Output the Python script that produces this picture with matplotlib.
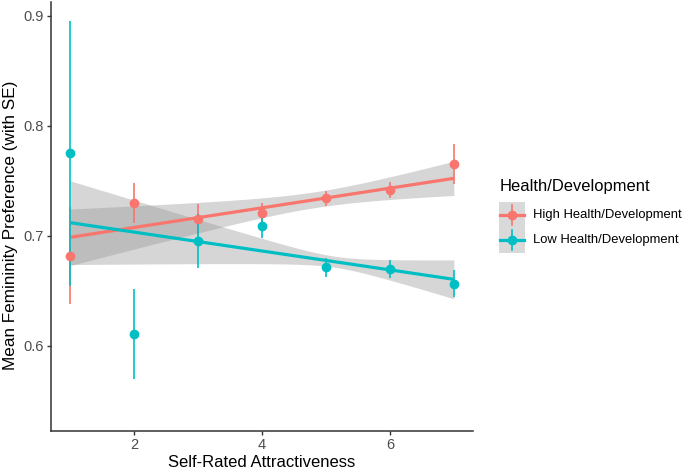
import numpy as np
import matplotlib
matplotlib.use("Agg")
import matplotlib.pyplot as plt

plt.rcParams['font.family'] = ['Liberation Sans', 'DejaVu Sans']

# ---- data ----
x_vals = [1, 2, 3, 4, 5, 6, 7]
high_mean = [0.682, 0.730, 0.7155, 0.7212, 0.7345, 0.7418, 0.7652]
high_se   = [0.044, 0.0185, 0.0135, 0.0092, 0.0068, 0.0076, 0.0182]
low_mean  = [0.7752, 0.6106, 0.6957, 0.7094, 0.6715, 0.6703, 0.6566]
low_se    = [0.1203, 0.041, 0.0245, 0.0113, 0.0085, 0.0083, 0.0125]

# fitted linear trends (value at x=1 and x=7) and CI parameters
high_fit = [0.6988, 0.7524]
low_fit  = [0.7121, 0.6606]
high_ci = dict(xbar=4.85, hw_min=0.0072, hw_slope=0.00641)
low_ci  = dict(xbar=5.14, hw_min=0.0050, hw_slope=0.00911)

series_labels = ["High Health/Development", "Low Health/Development"]
legend_title = "Health/Development"
colors = ["#F8766D", "#00BFC4"]

x_ticks = [2, 4, 6]
y_ticks = [0.6, 0.7, 0.8, 0.9]

W, H = 685, 470
fig = plt.figure(figsize=(W / 100, H / 100), dpi=100)
ax = fig.add_axes([51 / W, 1 - 430.7 / H, (473 - 51) / W, (430.7 - 2) / H])

band_color = "#999999"
xs = np.linspace(1, 7, 80)
for fit, ci, col in [(high_fit, high_ci, colors[0]), (low_fit, low_ci, colors[1])]:
    slope = (fit[1] - fit[0]) / 6.0
    yfit = fit[0] + slope * (xs - 1)
    hw = np.sqrt(ci["hw_min"] ** 2 + (ci["hw_slope"] * (xs - ci["xbar"])) ** 2)
    ax.fill_between(xs, yfit - hw, yfit + hw, color=band_color, alpha=0.4,
                    linewidth=0, zorder=1)
    ax.plot(xs, yfit, color=col, lw=2.3, zorder=2, solid_capstyle="butt")

for means, ses, col in [(high_mean, high_se, colors[0]), (low_mean, low_se, colors[1])]:
    ax.errorbar(x_vals, means, yerr=ses, fmt="o", color=col, ms=6,
                elinewidth=1.2, capsize=0, zorder=3)

ax.set_xlim(0.70, 7.30)
ax.set_ylim(0.523, 0.9127)
ax.set_xticks(x_ticks)
ax.set_xticklabels([str(t) for t in x_ticks])
ax.set_yticks(y_ticks)
ax.set_yticklabels([f"{t:.1f}" for t in y_ticks])
for s in ["top", "right"]:
    ax.spines[s].set_visible(False)
for s in ["left", "bottom"]:
    ax.spines[s].set_linewidth(1.1)
    ax.spines[s].set_color("#333333")
ax.tick_params(axis="both", length=3, width=1.0, color="#333333",
               labelsize=10.5, labelcolor="#4D4D4D", pad=2.5)
ax.set_xlabel("Self-Rated Attractiveness", fontsize=12, color="black", labelpad=2)
ax.set_ylabel("Mean Femininity Preference (with SE)", fontsize=12.3, color="black")
ax.yaxis.set_label_coords((18 - 51) / 422, (430.7 - 225) / 428.7)

# ---- legend drawn in its own axes (pixel coordinates) ----
lax = fig.add_axes([0, 0, 1, 1], facecolor="none")
lax.set_xlim(0, W)
lax.set_ylim(H, 0)
lax.axis("off")
lax.text(500, 186, legend_title, fontsize=11.9, va="center", ha="left", color="black")
key_x0, key_x1 = 499, 525
key_y = [215, 240]
lax.add_patch(plt.Rectangle((key_x0, 202), key_x1 - key_x0, 51,
                            facecolor="#D9D9D9", edgecolor="none"))
for yk, col, lab in zip(key_y, colors, series_labels):
    lax.plot([key_x0 + 1, key_x1 - 1], [yk, yk], color=col, lw=2.3)
    lax.plot([512, 512], [yk - 10, yk + 10], color=col, lw=1.2)
    lax.plot([512], [yk], "o", color=col, ms=6)
    lax.text(533, yk, lab, fontsize=9.4, va="center", ha="left", color="black")

fig.savefig("out.png", dpi=100)
